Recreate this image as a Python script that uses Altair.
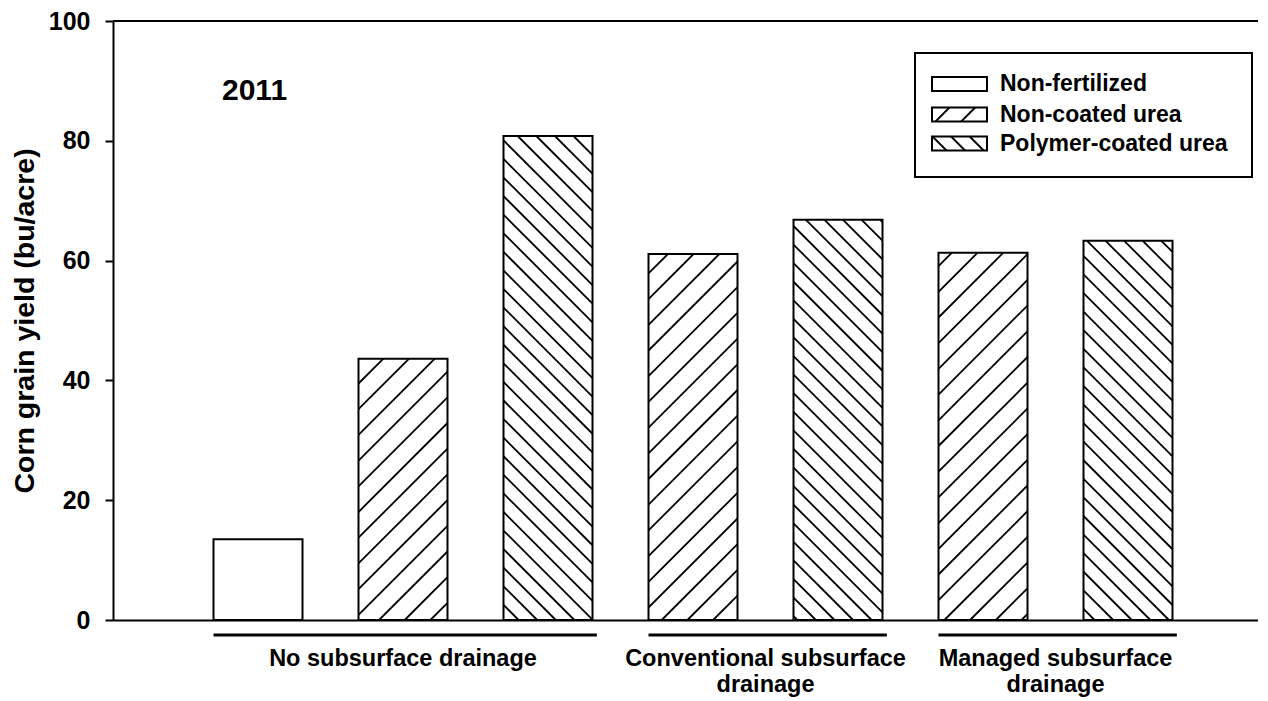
import math
import altair as alt
import pandas as pd

# ---------------- data ----------------
group_names = ["No subsurface drainage", "Conventional subsurface drainage", "Managed subsurface drainage"]
group_labels = ["No subsurface drainage", "Conventional subsurface\ndrainage", "Managed subsurface\ndrainage"]
treatments = ["Non-fertilized", "Non-coated urea", "Polymer-coated urea"]
bar_group = ["No subsurface drainage"] * 3 + ["Conventional subsurface drainage"] * 2 + ["Managed subsurface drainage"] * 2
bar_treatment = ["Non-fertilized", "Non-coated urea", "Polymer-coated urea",
                 "Non-coated urea", "Polymer-coated urea",
                 "Non-coated urea", "Polymer-coated urea"]
bar_yield = [13.5, 43.6, 80.8, 61.1, 66.8, 61.3, 63.3]
year_label = "2011"
y_ticks = [0, 20, 40, 60, 80, 100]
y_title = "Corn grain yield (bu/acre)"

# ---------------- layout ----------------
W, H = 1145, 599
TOP = 13
PXX = 145.0                      # pixels per bar slot
XMAX = W / PXX
YMAX = 100
BAR_W = 89 / PXX
FONT = "Liberation Sans"
hatch_kind = {"Non-fertilized": None, "Non-coated urea": "slash", "Polymer-coated urea": "back"}
SLASH_P, SLASH_C0 = 25.7, 865.0
BACK_P, BACK_C0 = 18.58, -289.7

xs = alt.Scale(domain=[0, XMAX], nice=False, zero=False)
ys = alt.Scale(domain=[0, YMAX], nice=False)

positions = list(range(1, len(bar_yield) + 1))
bars = pd.DataFrame({
    "pos": positions,
    "x0": [p - BAR_W / 2 for p in positions],
    "x1": [p + BAR_W / 2 for p in positions],
    "yield": bar_yield,
    "group": bar_group,
    "treatment": bar_treatment,
})


def to_dx(px):
    return px / PXX


def to_dy(py):
    return (H - py) / H * YMAX


def hatch(x0, x1, yt, yb, kind, c0=None):
    segs = []
    if kind == "slash":
        c0 = SLASH_C0 if c0 is None else c0
        k0 = math.ceil((x0 + yt - c0) / SLASH_P)
        k1 = math.floor((x1 + yb - c0) / SLASH_P)
        for k in range(k0, k1 + 1):
            c = c0 + k * SLASH_P
            lo, hi = max(x0, c - yb), min(x1, c - yt)
            if hi - lo > 0.8:
                segs.append((lo, c - lo, hi, c - hi))
    elif kind == "back":
        c0 = BACK_C0 if c0 is None else c0
        k0 = math.ceil((yt - x1 - c0) / BACK_P)
        k1 = math.floor((yb - x0 - c0) / BACK_P)
        for k in range(k0, k1 + 1):
            c = c0 + k * BACK_P
            lo, hi = max(x0, yt - c), min(x1, yb - c)
            if hi - lo > 0.8:
                segs.append((lo, lo + c, hi, hi + c))
    return segs


rows = []
for _, b in bars.iterrows():
    kind = hatch_kind[b["treatment"]]
    if kind is None:
        continue
    px0, px1 = b["x0"] * PXX, b["x1"] * PXX
    pyt = (YMAX - b["yield"]) / YMAX * H
    for (ax, ay, bx, by) in hatch(px0, px1, pyt, H, kind):
        rows.append({"x": to_dx(ax), "y": to_dy(ay), "x2": to_dx(bx), "y2": to_dy(by)})
bar_hatch = pd.DataFrame(rows)

# legend layout (plot pixels)
LEG_BOX = (802, 1139, 32, 156)
LEG_SYM_X = (819, 874)
LEG_ROWS = [(56, 70), (86.5, 100.5), (115.5, 129.5)]
LEG_TEXT_X = 887
leg_phase = {"slash": 923.0, "back": -704.0}
rows = []
for t, (r0, r1) in zip(treatments, LEG_ROWS):
    kind = hatch_kind[t]
    if kind is None:
        continue
    for (ax, ay, bx, by) in hatch(LEG_SYM_X[0], LEG_SYM_X[1], r0, r1, kind, leg_phase[kind]):
        rows.append({"x": to_dx(ax), "y": to_dy(ay), "x2": to_dx(bx), "y2": to_dy(by)})
leg_hatch = pd.DataFrame(rows)

one = pd.DataFrame({"a": [0]})

# ---------------- layers ----------------
layers = []

# top frame line
layers.append(alt.Chart(one).mark_rule(color="black", strokeWidth=2).encode(
    x=alt.value(0), x2=alt.value(W), y=alt.value(0)))

# bar fill
layers.append(alt.Chart(bars).mark_rect(fill="white", stroke=None).encode(
    x=alt.X("x0:Q", scale=xs, axis=alt.Axis(ticks=False, labels=False, grid=False, title=None,
                                             domainWidth=2, domainColor="black")),
    x2="x1:Q",
    y=alt.Y("yield:Q", scale=ys, axis=alt.Axis(values=y_ticks, title=y_title, grid=False,
                                                tickSize=8, tickWidth=2, domainWidth=2,
                                                tickColor="black", domainColor="black",
                                                labelFontSize=25, labelFontWeight="bold",
                                                labelFont=FONT, labelColor="black", labelPadding=15,
                                                titleFont=FONT, titleFontSize=28.5, titleFontWeight="bold",
                                                titleColor="black", titlePadding=9)),
    y2=alt.datum(0),
))

# hatching
layers.append(alt.Chart(bar_hatch).mark_rule(color="black", strokeWidth=1.8).encode(
    x=alt.X("x:Q", scale=xs), x2="x2:Q", y=alt.Y("y:Q", scale=ys), y2="y2:Q"))

# bar outlines
layers.append(alt.Chart(bars).mark_rect(fill=None, stroke="black", strokeWidth=2).encode(
    x=alt.X("x0:Q", scale=xs), x2="x1:Q", y=alt.Y("yield:Q", scale=ys), y2=alt.datum(0)))

# group underline + labels
grp = bars.groupby("group", sort=False).agg(start=("x0", "min"), end=("x1", "max"), mid=("pos", "mean")).reset_index()
grp["end"] = grp["end"] + 0.03
grp["label"] = [group_labels[group_names.index(g)] for g in grp["group"]]
layers.append(alt.Chart(grp).mark_rule(color="black", strokeWidth=3).encode(
    x=alt.X("start:Q", scale=xs), x2="end:Q", y=alt.value(614)))
layers.append(alt.Chart(grp).mark_text(font=FONT, fontSize=23.5, fontWeight="bold", color="black",
                                       align="center", baseline="alphabetic", lineBreak="\n",
                                       lineHeight=26).encode(
    x=alt.X("mid:Q", scale=xs), y=alt.value(645), text="label:N"))

# year label
layers.append(alt.Chart(one).mark_text(font=FONT, fontSize=30, fontWeight="bold", color="black",
                                       align="left", baseline="alphabetic", text=year_label).encode(
    x=alt.value(109), y=alt.value(79)))

# legend
layers.append(alt.Chart(one).mark_rect(fill="white", stroke="black", strokeWidth=2).encode(
    x=alt.value(LEG_BOX[0]), x2=alt.value(LEG_BOX[1]), y=alt.value(LEG_BOX[2]), y2=alt.value(LEG_BOX[3])))
layers.append(alt.Chart(leg_hatch).mark_rule(color="black", strokeWidth=1.8).encode(
    x=alt.X("x:Q", scale=xs), x2="x2:Q", y=alt.Y("y:Q", scale=ys), y2="y2:Q"))
for t, (r0, r1) in zip(treatments, LEG_ROWS):
    layers.append(alt.Chart(one).mark_rect(fill=None, stroke="black", strokeWidth=2).encode(
        x=alt.value(LEG_SYM_X[0]), x2=alt.value(LEG_SYM_X[1]), y=alt.value(r0), y2=alt.value(r1)))
    layers.append(alt.Chart(one).mark_text(font=FONT, fontSize=23, fontWeight="bold", color="black",
                                           align="left", baseline="middle", text=t).encode(
        x=alt.value(LEG_TEXT_X), y=alt.value((r0 + r1) / 2)))

chart = alt.layer(*layers).properties(
    width=W, height=H,
    padding={"left": 105, "top": TOP, "right": 0, "bottom": 80},
    autosize=alt.AutoSizeParams(type="none"),
    background="white",
).configure_view(stroke=None)

chart.save("out.html", embed_options={"renderer": "svg", "actions": False})
